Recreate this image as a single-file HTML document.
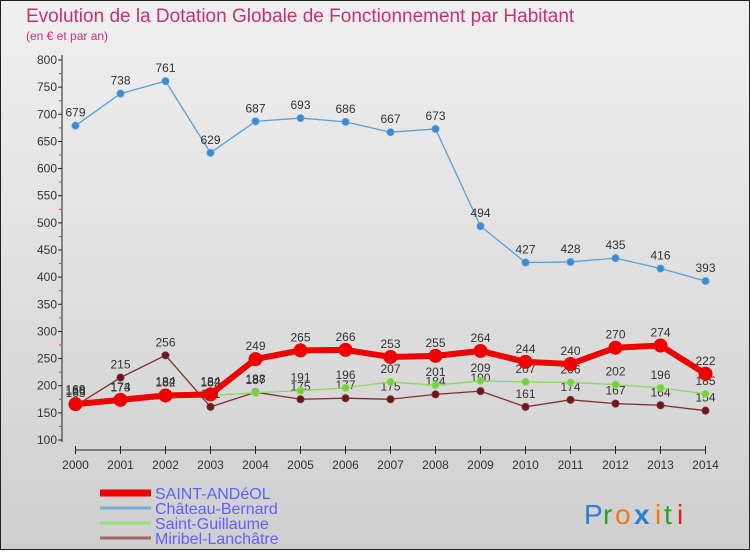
<!DOCTYPE html>
<html><head><meta charset="utf-8"><style>
body{margin:0;width:750px;height:550px;overflow:hidden;font-family:"Liberation Sans","DejaVu Sans",sans-serif}
svg text{font-family:"Liberation Sans","DejaVu Sans",sans-serif}
</style></head><body>
<svg id="c" width="750" height="550" xmlns="http://www.w3.org/2000/svg">
<defs><linearGradient id="bg" x1="0" y1="0" x2="0" y2="1"><stop offset="0" stop-color="#f0f0f0"/><stop offset="1" stop-color="#cfcfcf"/></linearGradient></defs>
<rect x="0.5" y="0.5" width="749" height="549" fill="url(#bg)" stroke="#222"/>
<text x="26" y="22" font-size="19" fill="#c8336e">Evolution de la Dotation Globale de Fonctionnement par Habitant</text>
<text x="26" y="40" font-size="12" fill="#c8336e">(en € et par an)</text>
<g id="axes"></g>
<g id="series"></g>
<g id="legend"></g>
<g font-size="28">
<text x="584" y="524" fill="#2a7fd4">P</text><text x="603" y="524" fill="#2aa02a">r</text><text x="615" y="524" fill="#f07a10">o</text><text x="634" y="524" fill="#2a7fd4" font-weight="bold">x</text><text x="655" y="524" fill="#f07a10">i</text><text x="664" y="524" fill="#2aa02a">t</text><text x="677" y="524" fill="#e02020">i</text>
</g>
</svg>
<script>
const years=[2000,2001,2002,2003,2004,2005,2006,2007,2008,2009,2010,2011,2012,2013,2014];
const yTicks=[100,150,200,250,300,350,400,450,500,550,600,650,700,750,800];
const andeol=[166,174,182,184,249,265,266,253,255,264,244,240,270,274,222];
const chateau=[679,738,761,629,687,693,686,667,673,494,427,428,435,416,393];
const guillaume=[169,173,184,182,187,191,196,207,201,209,207,206,202,196,185];
const miribel=[163,215,256,161,188,175,177,175,184,190,161,174,167,164,154];
const NS="http://www.w3.org/2000/svg";
const X=i=>75.5+i*45;
const Y=v=>440-(v-100)*380/700;
function mk(t,a,p){const e=document.createElementNS(NS,t);for(const k in a)e.setAttribute(k,a[k]);p.appendChild(e);return e;}
const ax=document.getElementById('axes');
const yl=mk('line',{x1:62,y1:55,x2:62,y2:442,stroke:'#222'},ax);


yTicks.forEach(v=>{
 const t=mk('text',{x:57,y:Y(v)+4,'font-size':12,'text-anchor':'end',fill:'#333'},ax);t.textContent=v;
 
 
 mk('line',{x1:58,y1:Y(v),x2:62,y2:Y(v),stroke:'#222'},ax);
 if(v<800)mk('line',{x1:59,y1:Y(v+25),x2:62,y2:Y(v+25),stroke:'#e33'},ax);
});
const xl=mk('line',{x1:75,y1:450,x2:706,y2:450,stroke:'#222'},ax);


years.forEach((y,i)=>{
 mk('line',{x1:X(i),y1:446,x2:X(i),y2:454,stroke:'#222'},ax);
 const t=mk('text',{x:X(i),y:469,'font-size':12,'text-anchor':'middle',fill:'#333'},ax);t.textContent=y;
 
 
});
const sg=document.getElementById('series');
function series(data,name,color,w,r,dot){
 const g=mk('g',{},sg);
 
 
 mk('polyline',{points:data.map((v,i)=>X(i)+','+Y(v)).join(' '),fill:'none',stroke:color,'stroke-width':w},g);
 data.forEach((v,i)=>{
  const c=mk('circle',{cx:X(i),cy:Y(v),r:r,fill:dot,stroke:color,'stroke-width':1},g);
  
  
  const t=mk('text',{x:X(i),y:Y(v)-9,'font-size':12,'text-anchor':'middle',fill:'#333'},g);t.textContent=v;
  
  
 });
}
series(chateau,'chateau-bernard','#5aa0d8',1.3,3.5,'#3a8ad0');
series(miribel,'miribel-lanchatre','#7a3030',1.3,3.5,'#6a1818');
series(guillaume,'saint-guillaume','#88dd55',1.3,3.5,'#77cc44');
series(andeol,'saint-andeol','#ee0000',6,6.5,'#ee0000');
const lg=document.getElementById('legend');
[['SAINT-ANDéOL','#ee0000',7],['Château-Bernard','#7aaad0',3],['Saint-Guillaume','#99dd77',3],['Miribel-Lanchâtre','#a06868',3]].forEach((d,i)=>{
 const y=493+i*15;
 const l=mk('line',{x1:100,y1:y,x2:151,y2:y,stroke:d[1],'stroke-width':d[2]},lg);
 
 
 const t=mk('text',{x:155,y:y+6,'font-size':16,fill:'#6060ff'},lg);t.textContent=d[0];
 
 
});
</script>
</body></html>
